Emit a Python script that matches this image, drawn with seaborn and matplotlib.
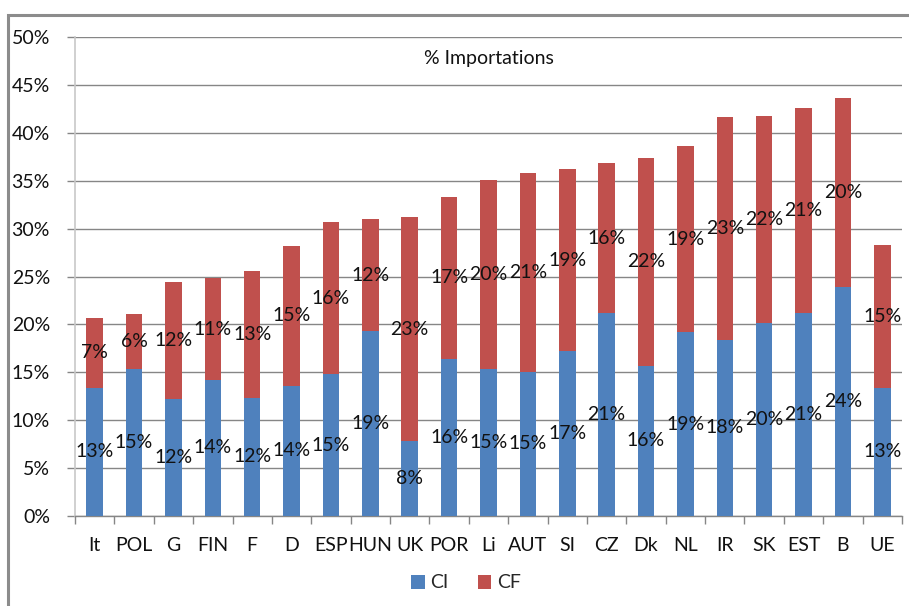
import matplotlib
matplotlib.use("Agg")
import matplotlib.pyplot as plt
from matplotlib.patches import Patch, Rectangle
from matplotlib.ticker import FixedLocator, FuncFormatter
import numpy as np
import pandas as pd
import seaborn as sns

# Share of imports, in percent, by country
countries = ["It", "POL", "G", "FIN", "F", "D", "ESP", "HUN", "UK", "POR", "Li",
             "AUT", "SI", "CZ", "Dk", "NL", "IR", "SK", "EST", "B", "UE"]
ci_values = [13.4, 15.3, 12.2, 14.2, 12.35, 13.6, 14.8, 19.3, 7.8, 16.4, 15.3,
             15.06, 17.2, 21.2, 15.7, 19.2, 18.4, 20.1, 21.2, 23.9, 13.4]
cf_values = [7.3, 5.8, 12.2, 10.6, 13.25, 14.6, 15.9, 11.7, 23.4, 16.9, 19.8,
             20.7, 19.0, 15.6, 21.7, 19.4, 23.2, 21.65, 21.4, 19.7, 14.9]
series_names = ["CI", "CF"]
y_ticks = [0, 5, 10, 15, 20, 25, 30, 35, 40, 45, 50]
title_text = "% Importations"

BLUE = "#4F81BD"
RED = "#C0504D"
GRID = "#868686"
TEXT = "#111111"
FS = 14

df = pd.DataFrame({"country": countries, "CI": ci_values, "CF": cf_values})
df["total"] = df["CI"] + df["CF"]

sns.set_theme(style="white")
plt.rcParams["font.family"] = ["Lato", "DejaVu Sans"]

fig = plt.figure(figsize=(9.09, 6.06), dpi=100)
ax = fig.add_axes([75 / 909, 90 / 606, 827 / 909, 479 / 606])

# stacked bars: full height in red, lower CI part in blue over it
sns.barplot(data=df, x="country", y="total", color=RED, width=0.42,
            saturation=1, edgecolor="none", ax=ax, zorder=2)
sns.barplot(data=df, x="country", y="CI", color=BLUE, width=0.42,
            saturation=1, edgecolor="none", ax=ax, zorder=3)

ax.set_ylim(0, 50)
ax.set_xlim(-0.5, len(countries) - 0.5)
ax.set_xlabel("")
ax.set_ylabel("")

ax.yaxis.set_major_locator(FixedLocator(y_ticks))
ax.yaxis.set_major_formatter(FuncFormatter(lambda v, p: f"{v:.0f}%"))
ax.grid(axis="y", color=GRID, linewidth=1.0, zorder=0)
ax.set_axisbelow(True)

ax.xaxis.set_minor_locator(FixedLocator(np.arange(-0.5, len(countries), 1.0)))
ax.tick_params(axis="x", which="major", length=0, pad=15, labelsize=FS,
               labelcolor=TEXT)
ax.tick_params(axis="x", which="minor", length=6, width=1, color=GRID,
               direction="out")
ax.tick_params(axis="y", which="major", length=6, width=1, color=GRID,
               direction="out", pad=12, labelsize=FS, labelcolor=TEXT)
ax.xaxis.set_ticks_position("bottom")
ax.yaxis.set_ticks_position("left")

for side in ["top", "right"]:
    ax.spines[side].set_visible(False)
ax.spines["left"].set_color("#C8C8C8")
ax.spines["left"].set_linewidth(1.2)
ax.spines["bottom"].set_color(GRID)
ax.spines["bottom"].set_linewidth(1.0)

# value labels centred in each segment
for i, row in df.iterrows():
    ax.text(i, row["CI"] / 2, f"{row['CI']:.0f}%", ha="center", va="center",
            fontsize=FS, color=TEXT, zorder=5)
    ax.text(i, row["CI"] + row["CF"] / 2, f"{row['CF']:.0f}%", ha="center",
            va="center", fontsize=FS, color=TEXT, zorder=5)

ax.text(0.5, 0.955, title_text, transform=ax.transAxes, ha="center",
        va="center", fontsize=FS, color=TEXT)

handles = [Patch(facecolor=BLUE, edgecolor="none"),
           Patch(facecolor=RED, edgecolor="none")]
fig.legend(handles, series_names, loc="center", bbox_to_anchor=(466 / 909, 1 - 583 / 606),
           ncol=2, frameon=False, fontsize=FS, handlelength=0.7,
           handleheight=0.7, handletextpad=0.3, columnspacing=1.5)

# outer chart border
fig.patches.append(Rectangle((8 / 909, -0.05), 1.2, 1 - 15 / 606 + 0.05,
                             transform=fig.transFigure, fill=False,
                             edgecolor="#8C8C8C", linewidth=2.2, clip_on=False))

fig.savefig("out.png", dpi=100)
